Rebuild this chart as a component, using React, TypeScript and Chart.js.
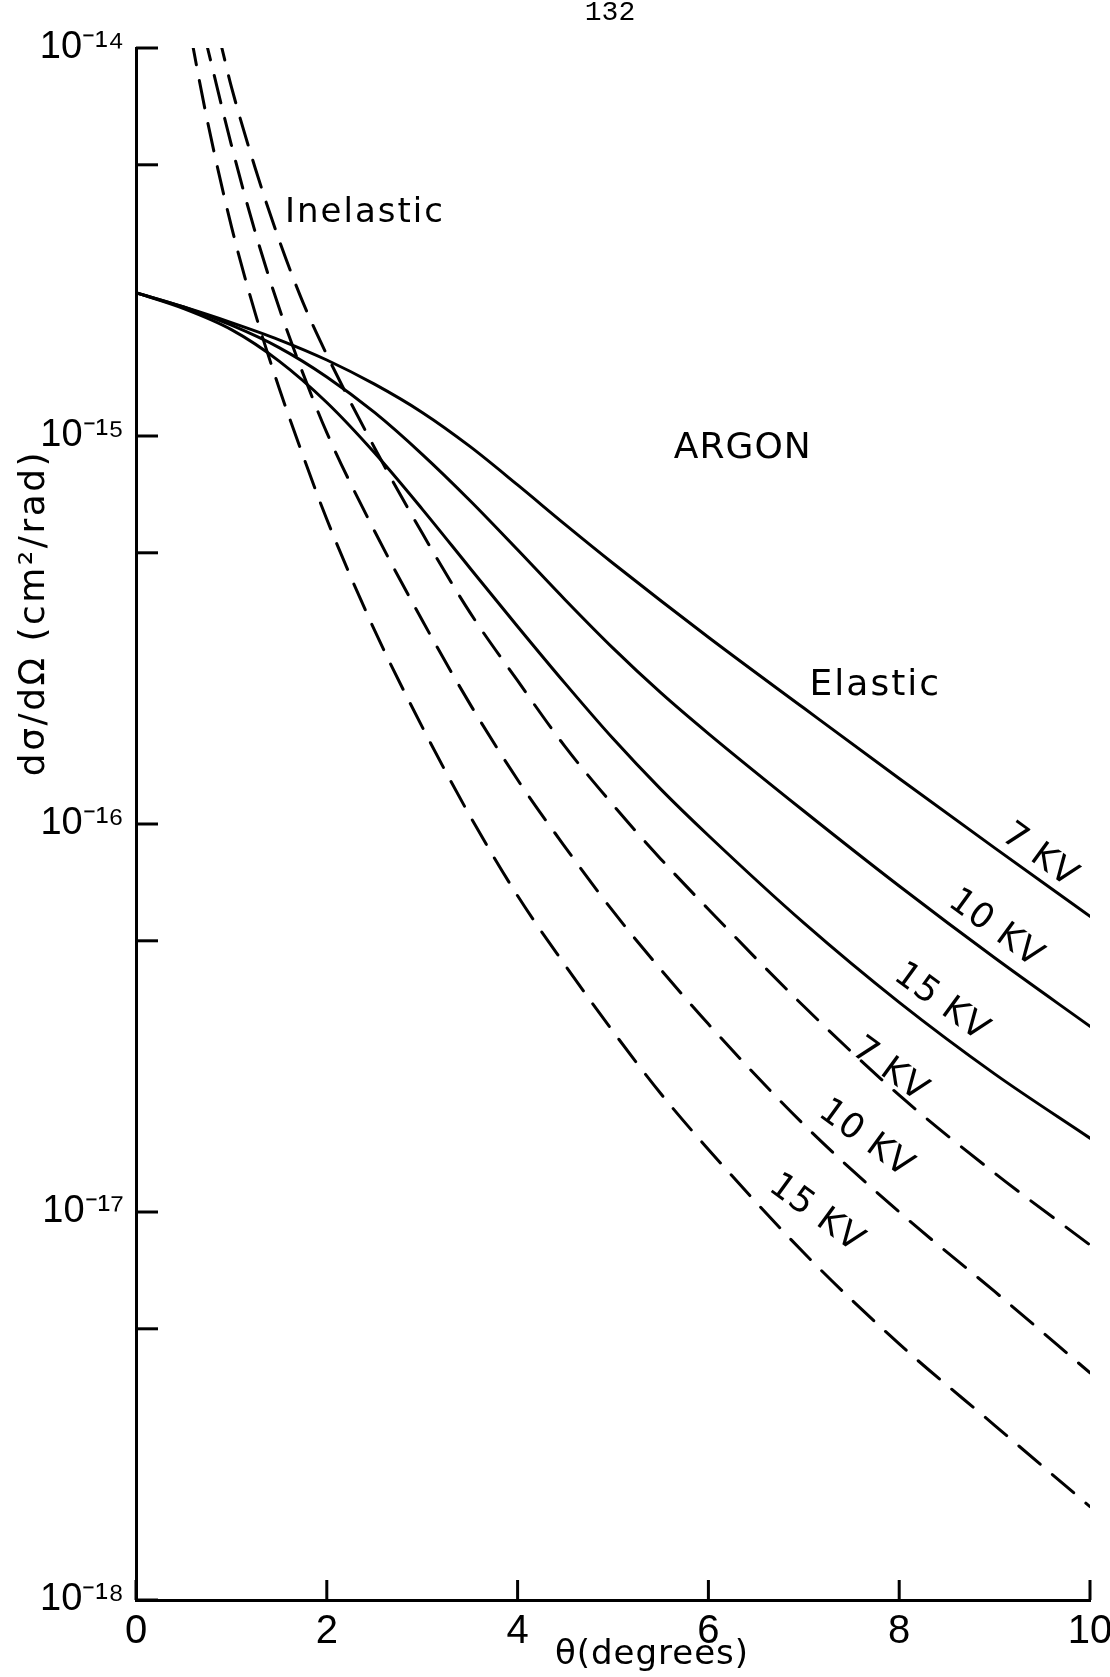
import React, { useEffect, useRef } from "react";
import { Chart, registerables } from "chart.js";

Chart.register(...registerables);

// ---------------- data ----------------
const thetaTickValues = [0, 2, 4, 6, 8, 10];
const sigmaTickValues = [1e-18, 5e-18, 1e-17, 5e-17, 1e-16, 5e-16, 1e-15, 5e-15, 1e-14];

// Elastic (solid)
const elastic7kVTheta = [0, 0.5, 1, 1.5, 2, 2.5, 3, 3.5, 4, 4.5, 5, 6, 7, 8, 9, 10];
const elastic7kVSigma = [2.34e-15, 2.15e-15, 1.96e-15, 1.77e-15, 1.57e-15, 1.36e-15, 1.15e-15, 9.4e-16, 7.48e-16, 5.91e-16, 4.7e-16, 3.03e-16, 1.99e-16, 1.31e-16, 8.68e-17, 5.78e-17];

const elastic10kVTheta = [0, 0.5, 1, 1.5, 2, 2.5, 3, 3.5, 4, 4.5, 5, 5.5, 6, 7, 8, 9, 10];
const elastic10kVSigma = [2.34e-15, 2.15e-15, 1.93e-15, 1.69e-15, 1.42e-15, 1.15e-15, 8.97e-16, 6.82e-16, 5.09e-16, 3.78e-16, 2.84e-16, 2.18e-16, 1.71e-16, 1.08e-16, 6.92e-17, 4.52e-17, 3.01e-17];

const elastic15kVTheta = [0, 0.5, 1, 1.5, 2, 2.5, 3, 3.5, 4, 4.5, 5, 5.5, 6, 7, 8, 9, 10];
const elastic15kVSigma = [2.34e-15, 2.13e-15, 1.88e-15, 1.56e-15, 1.22e-15, 9.05e-16, 6.48e-16, 4.57e-16, 3.23e-16, 2.3e-16, 1.66e-16, 1.23e-16, 9.34e-17, 5.56e-17, 3.47e-17, 2.27e-17, 1.55e-17];

// Inelastic (dashed)
const inelastic7kVTheta = [0.75, 0.9, 1, 1.25, 1.5, 1.75, 2, 2.5, 3, 3.5, 4, 4.5, 5, 5.5, 6, 7, 8, 9, 10];
const inelastic7kVSigma = [1.41e-14, 1.0e-14, 7.94e-15, 4.9e-15, 3.2e-15, 2.21e-15, 1.62e-15, 9.33e-16, 5.62e-16, 3.51e-16, 2.34e-16, 1.58e-16, 1.12e-16, 8.13e-17, 6.03e-17, 3.39e-17, 2.0e-17, 1.26e-17, 8.22e-18];

const inelastic10kVTheta = [0.6, 0.75, 1, 1.25, 1.5, 1.75, 2, 2.5, 3, 3.5, 4, 4.5, 5, 5.5, 6, 7, 8, 9, 10];
const inelastic10kVSigma = [1.41e-14, 1.0e-14, 5.62e-15, 3.35e-15, 2.14e-15, 1.45e-15, 1.02e-15, 5.69e-16, 3.35e-16, 2.04e-16, 1.3e-16, 8.71e-17, 5.96e-17, 4.22e-17, 3.05e-17, 1.68e-17, 1.0e-17, 6.24e-18, 3.85e-18];

const inelastic15kVTheta = [0.5, 0.6, 0.75, 1, 1.25, 1.5, 1.75, 2, 2.5, 3, 3.5, 4, 4.5, 5, 5.5, 6, 7, 8, 9, 10];
const inelastic15kVSigma = [1.38e-14, 1.0e-14, 6.46e-15, 3.47e-15, 2.07e-15, 1.33e-15, 8.91e-16, 6.1e-16, 3.16e-16, 1.78e-16, 1.05e-16, 6.53e-17, 4.32e-17, 2.92e-17, 2.02e-17, 1.45e-17, 7.85e-18, 4.57e-18, 2.82e-18, 1.74e-18];

// Text labels placed in data space (theta, sigma)
const labelTexts = ["Inelastic", "ARGON", "Elastic", "7 KV", "10 KV", "15 KV", "7 KV", "10 KV", "15 KV"];
const labelTheta = [2.4, 6.36, 7.75, 9.47, 9.01, 8.44, 7.9, 7.65, 7.13];
const labelSigma = [3.76e-15, 9.25e-16, 2.27e-16, 8.28e-17, 5.36e-17, 3.46e-17, 2.32e-17, 1.54e-17, 9.89e-18];

// ---------------- styling / layout ----------------
const labelAngle = [0, 0, 0, 36, 36, 36, 36, 36, 36];
const labelSize = [34, 36, 36, 35, 35, 35, 35, 35, 35];
const labelSpacing = [2, 1, 2, 1, 1, 1, 1, 1, 1];

const WIDTH = 1110;
const HEIGHT = 1677;
const PLOT_LEFT = 136;
const PLOT_TOP = 48;
const PLOT_RIGHT_PAD = 20;
const X_AXIS_HEIGHT = 77;

const SUP: Record<string, string> = {
  "-": "\u207B", "0": "\u2070", "1": "\u00B9", "2": "\u00B2", "3": "\u00B3",
  "4": "\u2074", "5": "\u2075", "6": "\u2076", "7": "\u2077", "8": "\u2078", "9": "\u2079",
};

function powerLabel(v: number): string {
  const e = Math.log10(v);
  const r = Math.round(e);
  if (Math.abs(e - r) > 1e-6) return "";
  return "10" + String(r).split("").map((c) => SUP[c] ?? c).join("");
}

function zip(xs: number[], ys: number[]) {
  return xs.map((x, i) => ({ x, y: ys[i] }));
}

const solidStyle = {
  borderColor: "#000",
  borderWidth: 3,
  pointRadius: 0,
  pointHoverRadius: 0,
  fill: false,
  cubicInterpolationMode: "monotone" as const,
  borderCapStyle: "round" as const,
};
const dashedStyle = { ...solidStyle, borderDash: [28, 16] };

const innerTicksPlugin = {
  id: "innerTicks",
  afterDatasetsDraw(chart: any) {
    const { ctx, chartArea } = chart;
    const xs = chart.scales.x;
    const ys = chart.scales.y;
    ctx.save();
    ctx.strokeStyle = "#000";
    ctx.lineWidth = 3;
    ctx.lineCap = "butt";
    ys.ticks.forEach((t: any) => {
      const py = ys.getPixelForValue(t.value);
      ctx.beginPath();
      ctx.moveTo(chartArea.left, py);
      ctx.lineTo(chartArea.left + 22, py);
      ctx.stroke();
    });
    xs.ticks.forEach((t: any) => {
      const px = xs.getPixelForValue(t.value);
      ctx.beginPath();
      ctx.moveTo(px, chartArea.bottom);
      ctx.lineTo(px, chartArea.bottom - 20);
      ctx.stroke();
    });
    ctx.restore();
  },
};

const figureTextPlugin = {
  id: "figureText",
  afterDraw(chart: any) {
    const { ctx } = chart;
    const xs = chart.scales.x;
    const ys = chart.scales.y;
    ctx.save();
    ctx.fillStyle = "#000";
    labelTexts.forEach((text, i) => {
      const px = xs.getPixelForValue(labelTheta[i]);
      const py = ys.getPixelForValue(labelSigma[i]);
      ctx.save();
      ctx.translate(px, py);
      ctx.rotate((labelAngle[i] * Math.PI) / 180);
      ctx.font = `${labelSize[i]}px "DejaVu Sans"`;
      ctx.letterSpacing = `${labelSpacing[i]}px`;
      ctx.textAlign = "center";
      ctx.textBaseline = "middle";
      ctx.fillText(text, 0, 0);
      ctx.restore();
    });

    // y-axis title (rotated)
    ctx.save();
    ctx.translate(44, 613);
    ctx.rotate(-Math.PI / 2);
    ctx.font = '36px "DejaVu Sans"';
    ctx.letterSpacing = "2.5px";
    ctx.textAlign = "center";
    ctx.textBaseline = "alphabetic";
    ctx.fillText("d\u03C3/d\u03A9 (cm\u00B2/rad)", 0, 0);
    ctx.restore();

    // x-axis title
    ctx.save();
    ctx.font = '34px "DejaVu Sans"';
    ctx.letterSpacing = "1px";
    ctx.textAlign = "center";
    ctx.textBaseline = "alphabetic";
    ctx.fillText("\u03B8(degrees)", 652, 1664);
    ctx.restore();

    // page number
    ctx.save();
    ctx.font = '28px "Liberation Mono"';
    ctx.textAlign = "center";
    ctx.textBaseline = "middle";
    ctx.fillText("132", 610, 13);
    ctx.restore();

    ctx.restore();
  },
};

export default function App() {
  const canvasRef = useRef<HTMLCanvasElement | null>(null);

  useEffect(() => {
    const canvas = canvasRef.current;
    if (!canvas) return;
    const chart = new Chart(canvas, {
      type: "line",
      data: {
        datasets: [
          { label: "Elastic 7 KV", data: zip(elastic7kVTheta, elastic7kVSigma), ...solidStyle },
          { label: "Elastic 10 KV", data: zip(elastic10kVTheta, elastic10kVSigma), ...solidStyle },
          { label: "Elastic 15 KV", data: zip(elastic15kVTheta, elastic15kVSigma), ...solidStyle },
          { label: "Inelastic 7 KV", data: zip(inelastic7kVTheta, inelastic7kVSigma), ...dashedStyle },
          { label: "Inelastic 10 KV", data: zip(inelastic10kVTheta, inelastic10kVSigma), ...dashedStyle },
          { label: "Inelastic 15 KV", data: zip(inelastic15kVTheta, inelastic15kVSigma), ...dashedStyle },
        ],
      },
      options: {
        animation: false,
        responsive: false,
        devicePixelRatio: 1,
        events: [],
        layout: { padding: { left: 0, top: PLOT_TOP, right: PLOT_RIGHT_PAD, bottom: 0 } },
        plugins: {
          legend: { display: false },
          tooltip: { enabled: false },
          title: { display: false },
        },
        scales: {
          x: {
            type: "linear",
            min: 0,
            max: 10,
            grid: { display: false, drawTicks: false },
            border: { display: true, color: "#000", width: 3 },
            afterBuildTicks: (scale: any) => {
              scale.ticks = thetaTickValues.map((v) => ({ value: v }));
            },
            afterFit: (scale: any) => {
              scale.height = X_AXIS_HEIGHT;
              scale.paddingLeft = 0;
              scale.paddingRight = 0;
            },
            ticks: {
              autoSkip: false,
              maxRotation: 0,
              minRotation: 0,
              padding: 8,
              color: "#000",
              font: { family: "Liberation Sans", size: 40 },
              callback: (v: any) => String(v),
            },
          },
          y: {
            type: "logarithmic",
            min: 1e-18,
            max: 1e-14,
            grid: { display: false, drawTicks: false },
            border: { display: true, color: "#000", width: 3 },
            afterBuildTicks: (scale: any) => {
              scale.ticks = sigmaTickValues.map((v) => ({ value: v }));
            },
            afterFit: (scale: any) => {
              scale.width = PLOT_LEFT;
              scale.paddingTop = 0;
              scale.paddingBottom = 0;
            },
            ticks: {
              autoSkip: false,
              padding: 12,
              color: "#000",
              font: { family: "Liberation Sans", size: 38 },
              callback: (v: any) => powerLabel(Number(v)),
            },
          },
        },
      },
      plugins: [innerTicksPlugin, figureTextPlugin],
    } as any);
    return () => chart.destroy();
  }, []);

  return (
    <div style={{ position: "absolute", left: 0, top: 0, width: WIDTH, height: HEIGHT, background: "#fff" }}>
      <canvas ref={canvasRef} width={WIDTH} height={HEIGHT} style={{ display: "block", width: WIDTH, height: HEIGHT }} />
    </div>
  );
}
